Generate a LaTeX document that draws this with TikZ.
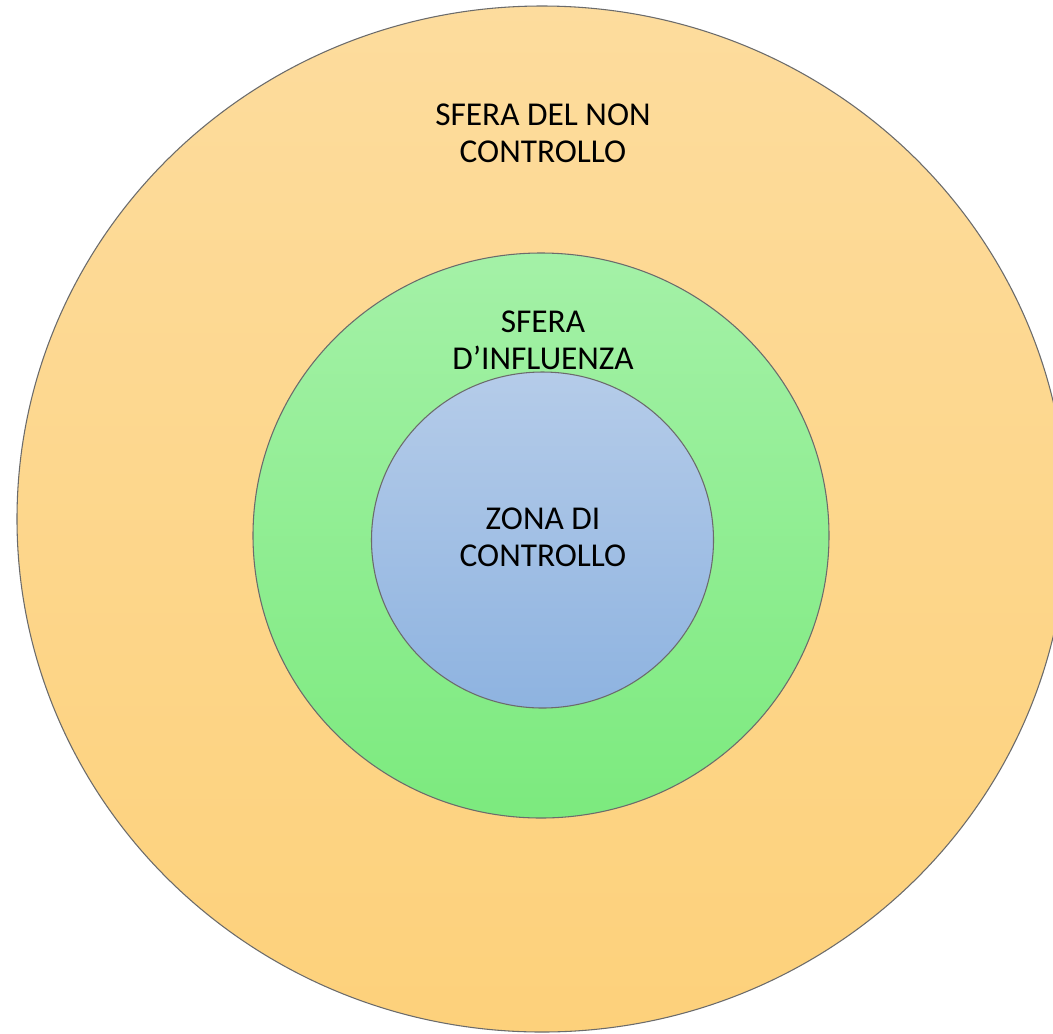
\documentclass[tikz,border=0pt]{standalone}
\usepackage{fontspec}
\setmainfont{Carlito}
\definecolor{outerTop}{HTML}{FDDC9D}
\definecolor{outerBot}{HTML}{FDD17B}
\definecolor{midTop}{HTML}{A4F1A7}
\definecolor{midBot}{HTML}{7CEA7E}
\definecolor{innTop}{HTML}{B5CCE9}
\definecolor{innBot}{HTML}{8EB3E0}
\definecolor{ringLine}{HTML}{6B6B6B}
\begin{document}
\begin{tikzpicture}[x=0.75pt,y=-0.75pt,
  ring/.style={draw=ringLine, line width=0.8pt},
  lbl/.style={align=center, inner sep=0pt, font=\fontsize{25pt}{28pt}\selectfont, text=black}]
\useasboundingbox (0,0) rectangle (1053,1033);
\clip (0,0) rectangle (1053,1033);
\fill[white] (0,0) rectangle (1053,1033);
\path[ring, top color=outerTop, bottom color=outerBot] (542,519) ellipse [x radius=525, y radius=513];
\path[ring, top color=midTop, bottom color=midBot] (541,535.5) ellipse [x radius=288, y radius=282.5];
\path[ring, top color=innTop, bottom color=innBot] (542.5,540) ellipse [x radius=171, y radius=168];
\node[lbl] (outer) at (543,133) {SFERA DEL NON\\CONTROLLO};
\node[lbl] (mid) at (543,340) {SFERA\\D’INFLUENZA};
\node[lbl] (inner) at (543,537) {ZONA DI\\CONTROLLO};
\end{tikzpicture}
\end{document}
